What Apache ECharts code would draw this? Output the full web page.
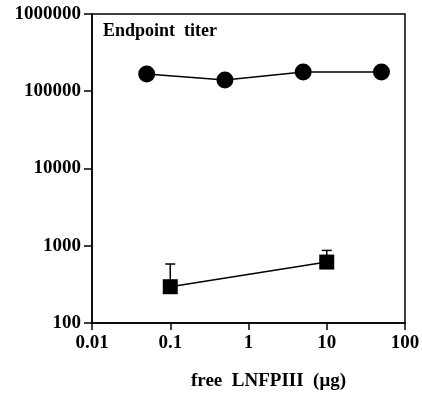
<!DOCTYPE html>
<html>
<head>
<meta charset="utf-8">
<script src="https://cdn.jsdelivr.net/npm/echarts@6/dist/echarts.min.js"></script>
<style>
  html, body { margin: 0; padding: 0; background: #fff; }
  #chart { width: 422px; height: 393px; }
</style>
</head>
<body>
<div id="chart"></div>
<script>
// free LNFPIII dose (ug)
const circleX = [0.05, 0.5, 5, 50];
const circleY = [167000, 140000, 178000, 178000];
const squareX = [0.1, 10];
const squareY = [295, 615];
const squareErrTop = [580, 870];

const font = 'Liberation Serif';

const myChart = echarts.init(document.getElementById('chart'));

const circles = circleX.map((x, i) => [x, circleY[i]]);
const squares = squareX.map((x, i) => [x, squareY[i]]);
const errs = squareX.map((x, i) => [x, squareY[i], squareErrTop[i]]);

function fmt(v) {
  // plain numbers, no thousands separator
  return String(+v.toPrecision(6));
}

myChart.setOption({
  animation: false,
  grid: {
    left: 92, right: 17, top: 14, bottom: 70,
    outerBoundsMode: 'none',
    show: true, borderColor: '#000', borderWidth: 1.5
  },
  title: {
    text: 'Endpoint  titer',
    left: 98, top: 17,
    textStyle: { fontFamily: font, fontWeight: 'bold', fontSize: 18, color: '#000' }
  },
  xAxis: {
    type: 'log', logBase: 10, min: 0.01, max: 100,
    name: 'free  LNFPIII  (μg)', nameLocation: 'middle', nameGap: 49,
    nameTextStyle: { fontFamily: font, fontWeight: 'bold', fontSize: 19, color: '#000', padding: [0, 0, 0, 40] },
    axisLine: { lineStyle: { color: '#000', width: 1.5 } },
    axisTick: { inside: false, length: 7, lineStyle: { color: '#000', width: 1.5 } },
    axisLabel: { fontFamily: font, fontWeight: 'bold', fontSize: 19, color: '#000', margin: 11, formatter: fmt },
    splitLine: { show: false },
    minorTick: { show: false }
  },
  yAxis: {
    type: 'log', logBase: 10, min: 100, max: 1000000,
    axisLine: { lineStyle: { color: '#000', width: 1.5 } },
    axisTick: { inside: false, length: 8, lineStyle: { color: '#000', width: 1.5 } },
    axisLabel: { fontFamily: font, fontWeight: 'bold', fontSize: 19, color: '#000', margin: 11, formatter: fmt },
    splitLine: { show: false }
  },
  series: [
    {
      type: 'line', data: circles,
      symbol: 'circle', symbolSize: 17,
      lineStyle: { color: '#000', width: 1.5 },
      itemStyle: { color: '#000' }
    },
    {
      type: 'custom', data: errs,
      renderItem: function (params, api) {
        const p = api.coord([api.value(0), api.value(1)]);
        const t = api.coord([api.value(0), api.value(2)]);
        return {
          type: 'group',
          children: [
            { type: 'line', shape: { x1: p[0], y1: p[1], x2: t[0], y2: t[1] }, style: { stroke: '#000', lineWidth: 1.5 } },
            { type: 'line', shape: { x1: t[0] - 5, y1: t[1], x2: t[0] + 5, y2: t[1] }, style: { stroke: '#000', lineWidth: 1.5 } }
          ]
        };
      },
      z: 1
    },
    {
      type: 'line', data: squares,
      symbol: 'rect', symbolSize: 15,
      lineStyle: { color: '#000', width: 1.5 },
      itemStyle: { color: '#000' },
      z: 3
    }
  ]
});
</script>
</body>
</html>
